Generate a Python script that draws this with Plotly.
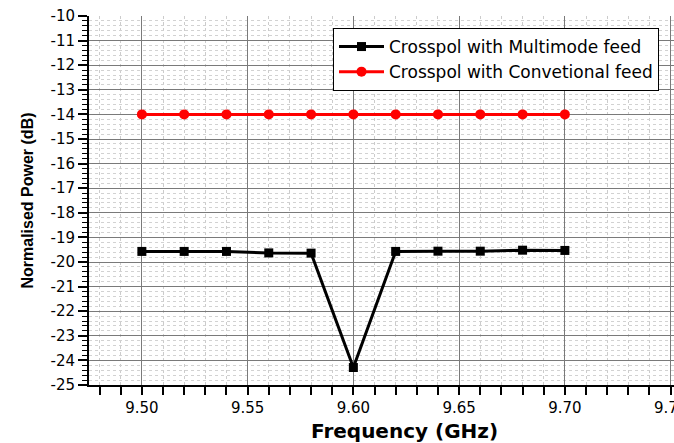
import plotly.graph_objects as go

freq = [9.50, 9.52, 9.54, 9.56, 9.58, 9.60, 9.62, 9.64, 9.66, 9.68, 9.70]
multimode = [-19.57, -19.57, -19.57, -19.63, -19.64, -24.29, -19.57, -19.56, -19.56, -19.52, -19.53]
conventional = [-14.0, -14.0, -14.0, -14.0, -14.0, -14.0, -14.0, -14.0, -14.0, -14.0, -14.0]

y_tickvals = [-10, -11, -12, -13, -14, -15, -16, -17, -18, -19, -20, -21, -22, -23, -24, -25]
y_ticktext = ["-10", "-11", "-12", "-13", "-14", "-15", "-16", "-17", "-18", "-19", "-20",
              "-21", "-22", "-23", "-24", "-25"]
x_tickvals = [9.50, 9.55, 9.60, 9.65, 9.70, 9.75]
x_ticktext = ["9.50", "9.55", "9.60", "9.65", "9.70", "9.75"]

fig = go.Figure()
fig.add_trace(go.Scatter(
    x=freq, y=multimode, mode="lines+markers",
    name="Crosspol with Multimode feed",
    line=dict(color="black", width=3),
    marker=dict(symbol="square", size=9, color="black"),
))
fig.add_trace(go.Scatter(
    x=freq, y=conventional, mode="lines+markers",
    name="Crosspol with Convetional feed",
    line=dict(color="#ff0000", width=3),
    marker=dict(symbol="circle", size=10, color="#ff0000"),
))

tick_font = dict(family="DejaVu Sans", size=15, color="black")

fig.update_layout(
    width=674, height=443,
    margin=dict(l=89, r=0, t=16, b=58, autoexpand=False),
    paper_bgcolor="white", plot_bgcolor="white",
    showlegend=True,
    legend=dict(
        x=(333 - 89) / 585, y=(385 - 28) / 369, xanchor="left", yanchor="top",
        bgcolor="white", bordercolor="black", borderwidth=1,
        font=dict(family="DejaVu Sans", size=17, color="black"),
        tracegroupgap=0, itemwidth=45,
    ),
    xaxis=dict(
        range=[9.475, 9.7516], automargin=False,
        tickvals=x_tickvals, ticktext=x_ticktext,
        tickfont=tick_font, ticklabeloverflow="allow",
        showline=True, linecolor="black", linewidth=2,
        ticks="outside", ticklen=8, tickwidth=2, tickcolor="black",
        showgrid=True, gridcolor="#7a7a7a", gridwidth=1,
        zeroline=False,
        minor=dict(dtick=0.01, tick0=9.50, ticks="outside", ticklen=8, tickwidth=2,
                   tickcolor="black", showgrid=True, gridcolor="#cccccc",
                   griddash="dot", gridwidth=1),
    ),
    yaxis=dict(
        range=[-25, -10], automargin=False,
        tickvals=y_tickvals, ticktext=y_ticktext,
        tickfont=tick_font,
        showline=True, linecolor="black", linewidth=2,
        ticks="outside", ticklen=9, tickwidth=2, tickcolor="black",
        showgrid=True, gridcolor="#7a7a7a", gridwidth=1,
        zeroline=False,
        title=dict(text="Normalised Power (dB)",
                   font=dict(family="Arial", size=16, color="black", weight="bold"),
                   standoff=13),
        minor=dict(dtick=0.2, tick0=-25, ticks="outside", ticklen=5, tickwidth=1,
                   tickcolor="black", showgrid=True, gridcolor="#d2d2d2",
                   griddash="dot", gridwidth=1),
    ),
    annotations=[dict(
        text="Frequency (GHz)", xref="paper", yref="paper",
        x=(404 - 89) / 585, y=-(431 - 385) / 369, xanchor="center", yanchor="middle",
        showarrow=False,
        font=dict(family="DejaVu Sans", size=20, color="black", weight="bold"),
    )],
)

fig.write_html("out.html", config={"displayModeBar": False},
               post_script="document.body.style.margin='0';document.body.style.overflow='hidden';")
